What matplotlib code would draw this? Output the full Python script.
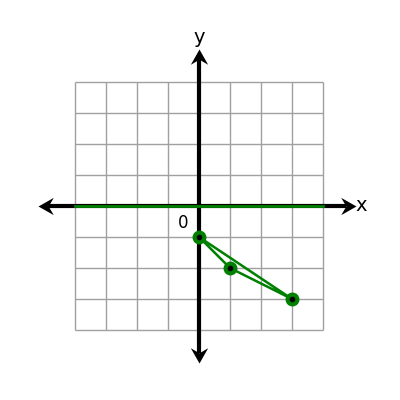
import matplotlib
matplotlib.use("Agg")
import matplotlib.pyplot as plt
import numpy as np
from matplotlib.path import Path
from matplotlib.markers import MarkerStyle
from matplotlib.transforms import Affine2D

# data
grid_ticks = [-4, -3, -2, -1, 0, 1, 2, 3, 4]
line_x = [-4, 4]
line_y = [0, 0]
pts_x = [0, 1, 3]
pts_y = [-1, -2, -3]
axis_x_range = [-5.2, 5.05]
axis_y_range = [-5.05, 5.05]

fig = plt.figure(figsize=(4, 4), dpi=100)
ax = fig.add_axes([0, 0, 1, 1])
ax.set_xlim(-199 / 31, 201 / 31)
ax.set_ylim(-194 / 31, 206 / 31)
ax.axis("off")

gmin, gmax = grid_ticks[0], grid_ticks[-1]
ax.vlines(grid_ticks, gmin, gmax, colors="#a0a0a0", lw=1, zorder=1)
ax.hlines(grid_ticks, gmin, gmax, colors="#a0a0a0", lw=1, zorder=1)

# axes lines
ax.plot([axis_x_range[0] + 0.3, axis_x_range[1] - 0.3], [0, 0], color="black", lw=3, zorder=2, solid_capstyle="butt")
ax.plot([0, 0], [axis_y_range[0] + 0.3, axis_y_range[1] - 0.3], color="black", lw=3, zorder=2, solid_capstyle="butt")

head = Path([(0, 0), (-15, 8.5), (-10, 0), (-15, -8.5), (0, 0)],
            [Path.MOVETO, Path.LINETO, Path.LINETO, Path.LINETO, Path.CLOSEPOLY])

def arrow_head(x, y, angle):
    m = MarkerStyle(head, transform=Affine2D().rotate_deg(angle))
    ax.plot([x], [y], marker=m, markersize=22, color="black", markeredgewidth=0, zorder=3)

arrow_head(axis_x_range[1], 0, 0)
arrow_head(axis_x_range[0], 0, 180)
arrow_head(0, axis_y_range[1], 90)
arrow_head(0, axis_y_range[0], 270)

# green line on x-axis
ax.plot(line_x, line_y, color="#008000", lw=2, zorder=4)

# triangle
ax.plot(pts_x + [pts_x[0]], pts_y + [pts_y[0]], color="#008000", lw=1.8, zorder=4)
ax.plot(pts_x, pts_y, "o", color="#008000", markersize=9, zorder=5)
ax.plot(pts_x, pts_y, "o", color="black", markersize=3, zorder=6)

ax.text(5.23, 0.03, "x", fontsize=14, ha="center", va="center")
ax.text(0, 5.42, "y", fontsize=14, ha="center", va="center")
ax.text(-0.52, -0.55, "0", fontsize=12, ha="center", va="center")

fig.savefig("out.png", dpi=100)
